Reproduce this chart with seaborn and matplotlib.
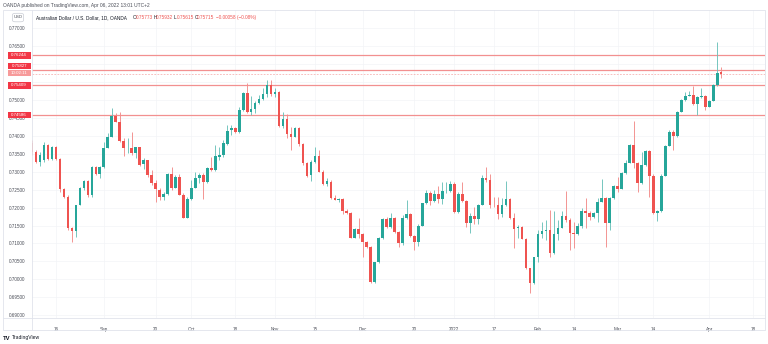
import numpy as np
import pandas as pd
import matplotlib
matplotlib.use("Agg")
import matplotlib.pyplot as plt
from matplotlib.patches import Rectangle, FancyBboxPatch
from matplotlib.lines import Line2D
from matplotlib.transforms import blended_transform_factory
import seaborn as sns

sns.set_theme(style="white")
plt.rcParams['font.family'] = ['Liberation Sans', 'DejaVu Sans']

# ---------------- data (AUD/USD daily, OANDA) ----------------
start_date = "2021-08-06"

opens = [
    0.7380, 0.7354, 0.7328, 0.7333, 0.7374, 0.7335, 0.7370, 0.7335, 0.7252, 0.7230,
    0.7142, 0.7135, 0.7207, 0.7255, 0.7274, 0.7235, 0.7313, 0.7294, 0.7314, 0.7365,
    0.7398, 0.7456, 0.7439, 0.7386, 0.7365, 0.7366, 0.7351, 0.7368, 0.7321, 0.7332,
    0.7291, 0.7268, 0.7249, 0.7230, 0.7238, 0.7293, 0.7254, 0.7286, 0.7235, 0.7172,
    0.7224, 0.7255, 0.7282, 0.7291, 0.7270, 0.7310, 0.7305, 0.7341, 0.7347, 0.7376,
    0.7416, 0.7421, 0.7410, 0.7472, 0.7519, 0.7467, 0.7475, 0.7491, 0.7503, 0.7516,
    0.7542, 0.7516, 0.7522, 0.7428, 0.7446, 0.7405, 0.7398, 0.7421, 0.7376, 0.7323,
    0.7291, 0.7326, 0.7344, 0.7300, 0.7265, 0.7272, 0.7226, 0.7221, 0.7224, 0.7190,
    0.7186, 0.7116, 0.7140, 0.7126, 0.7105, 0.7089, 0.6993, 0.7047, 0.7114, 0.7167,
    0.7147, 0.7170, 0.7133, 0.7102, 0.7170, 0.7181, 0.7121, 0.7105, 0.7149, 0.7212,
    0.7241, 0.7219, 0.7237, 0.7224, 0.7245, 0.7247, 0.7266, 0.7187, 0.7237, 0.7219,
    0.7158, 0.7177, 0.7168, 0.7207, 0.7282, 0.7277, 0.7207, 0.7206, 0.7181, 0.7207,
    0.7224, 0.7170, 0.7142, 0.7147, 0.7112, 0.7031, 0.6990, 0.7061, 0.7126, 0.7135,
    0.7137, 0.7072, 0.7126, 0.7142, 0.7177, 0.7165, 0.7128, 0.7125, 0.7149, 0.7191,
    0.7186, 0.7175, 0.7186, 0.7216, 0.7228, 0.7158, 0.7228, 0.7260, 0.7253, 0.7296,
    0.7325, 0.7374, 0.7325, 0.7268, 0.7319, 0.7358, 0.7289, 0.7184, 0.7190, 0.7289,
    0.7372, 0.7412, 0.7400, 0.7467, 0.7500, 0.7512, 0.7513, 0.7489, 0.7508, 0.7510,
    0.7481, 0.7498, 0.7542, 0.75773,
]
highs = [
    0.7388, 0.7361, 0.7354, 0.7384, 0.7376, 0.7372, 0.7371, 0.7337, 0.7254, 0.7235,
    0.7147, 0.7207, 0.7258, 0.7277, 0.7277, 0.7317, 0.7316, 0.7317, 0.7384, 0.7407,
    0.7477, 0.7463, 0.7467, 0.7393, 0.7393, 0.7410, 0.7370, 0.7370, 0.7337, 0.7333,
    0.7305, 0.7277, 0.7254, 0.7244, 0.7296, 0.7314, 0.7291, 0.7293, 0.7240, 0.7230,
    0.7277, 0.7300, 0.7296, 0.7296, 0.7314, 0.7342, 0.7374, 0.7369, 0.7388, 0.7430,
    0.7430, 0.7425, 0.7480, 0.7522, 0.7547, 0.7511, 0.7497, 0.7514, 0.7533, 0.7555,
    0.7556, 0.7533, 0.7525, 0.7467, 0.7461, 0.7426, 0.7425, 0.7425, 0.7380, 0.7327,
    0.7333, 0.7370, 0.7361, 0.7305, 0.7282, 0.7277, 0.7235, 0.7228, 0.7226, 0.7196,
    0.7188, 0.7143, 0.7170, 0.7129, 0.7107, 0.7093, 0.7048, 0.7118, 0.7171, 0.7173,
    0.7184, 0.7173, 0.7135, 0.7179, 0.7221, 0.7185, 0.7124, 0.7154, 0.7213, 0.7249,
    0.7246, 0.7249, 0.7260, 0.7272, 0.7272, 0.7275, 0.7272, 0.7244, 0.7270, 0.7221,
    0.7186, 0.7201, 0.7210, 0.7291, 0.7312, 0.7294, 0.7230, 0.7230, 0.7227, 0.7274,
    0.7226, 0.7184, 0.7151, 0.7149, 0.7115, 0.7032, 0.7061, 0.7137, 0.7161, 0.7165,
    0.7193, 0.7191, 0.7165, 0.7190, 0.7246, 0.7170, 0.7161, 0.7156, 0.7198, 0.7226,
    0.7191, 0.7188, 0.7226, 0.7280, 0.7230, 0.7230, 0.7263, 0.7286, 0.7299, 0.7333,
    0.7377, 0.7441, 0.7327, 0.7356, 0.7361, 0.7361, 0.7294, 0.7193, 0.7294, 0.7374,
    0.7416, 0.7416, 0.7469, 0.7503, 0.7522, 0.7526, 0.7539, 0.7511, 0.7533, 0.7514,
    0.7500, 0.7545, 0.7663, 0.75932,
]
lows = [
    0.7347, 0.7323, 0.7316, 0.7328, 0.7332, 0.7332, 0.7333, 0.7244, 0.7228, 0.7137,
    0.7105, 0.7119, 0.7207, 0.7249, 0.7230, 0.7230, 0.7291, 0.7283, 0.7310, 0.7365,
    0.7398, 0.7438, 0.7384, 0.7345, 0.7351, 0.7348, 0.7337, 0.7317, 0.7307, 0.7286,
    0.7263, 0.7216, 0.7221, 0.7221, 0.7235, 0.7249, 0.7254, 0.7235, 0.7170, 0.7170,
    0.7221, 0.7254, 0.7268, 0.7224, 0.7268, 0.7302, 0.7302, 0.7333, 0.7341, 0.7374,
    0.7402, 0.7408, 0.7408, 0.7469, 0.7464, 0.7458, 0.7464, 0.7489, 0.7500, 0.7508,
    0.7511, 0.7508, 0.7425, 0.7422, 0.7394, 0.7361, 0.7397, 0.7372, 0.7319, 0.7285,
    0.7274, 0.7324, 0.7299, 0.7263, 0.7260, 0.7224, 0.7220, 0.7216, 0.7181, 0.7182,
    0.7115, 0.7114, 0.7115, 0.7062, 0.7087, 0.6990, 0.6991, 0.7045, 0.7112, 0.7143,
    0.7143, 0.7130, 0.7090, 0.7096, 0.7168, 0.7118, 0.7082, 0.7093, 0.7148, 0.7210,
    0.7207, 0.7216, 0.7212, 0.7210, 0.7241, 0.7243, 0.7184, 0.7185, 0.7216, 0.7145,
    0.7129, 0.7153, 0.7154, 0.7206, 0.7272, 0.7198, 0.7201, 0.7167, 0.7175, 0.7205,
    0.7168, 0.7088, 0.7114, 0.7111, 0.7030, 0.6963, 0.6988, 0.7049, 0.7114, 0.7110,
    0.7063, 0.7070, 0.7110, 0.7142, 0.7161, 0.7083, 0.7086, 0.7123, 0.7144, 0.7144,
    0.7165, 0.7170, 0.7161, 0.7215, 0.7091, 0.7137, 0.7224, 0.7243, 0.7252, 0.7294,
    0.7324, 0.7310, 0.7244, 0.7266, 0.7316, 0.7230, 0.7182, 0.7163, 0.7188, 0.7288,
    0.7372, 0.7361, 0.7397, 0.7467, 0.7497, 0.7510, 0.7487, 0.7458, 0.7506, 0.7472,
    0.7480, 0.7497, 0.7540, 0.75615,
]
closes = [
    0.7355, 0.7328, 0.7347, 0.7374, 0.7335, 0.7370, 0.7335, 0.7252, 0.7230, 0.7142,
    0.7135, 0.7207, 0.7255, 0.7274, 0.7235, 0.7313, 0.7294, 0.7314, 0.7365, 0.7398,
    0.7456, 0.7439, 0.7386, 0.7365, 0.7366, 0.7351, 0.7368, 0.7319, 0.7332, 0.7291,
    0.7268, 0.7251, 0.7230, 0.7238, 0.7293, 0.7254, 0.7286, 0.7235, 0.7172, 0.7224,
    0.7255, 0.7282, 0.7291, 0.7270, 0.7310, 0.7305, 0.7345, 0.7348, 0.7379, 0.7414,
    0.7421, 0.7410, 0.7472, 0.7519, 0.7466, 0.7475, 0.7491, 0.7503, 0.7516, 0.7542,
    0.7516, 0.7522, 0.7428, 0.7446, 0.7405, 0.7398, 0.7421, 0.7376, 0.7323, 0.7289,
    0.7326, 0.7344, 0.7300, 0.7265, 0.7274, 0.7226, 0.7221, 0.7224, 0.7190, 0.7186,
    0.7116, 0.7140, 0.7126, 0.7105, 0.7089, 0.6993, 0.7047, 0.7114, 0.7167, 0.7147,
    0.7170, 0.7133, 0.7102, 0.7170, 0.7181, 0.7121, 0.7105, 0.7149, 0.7212, 0.7241,
    0.7219, 0.7237, 0.7224, 0.7246, 0.7247, 0.7266, 0.7187, 0.7237, 0.7219, 0.7158,
    0.7177, 0.7168, 0.7207, 0.7282, 0.7277, 0.7207, 0.7206, 0.7181, 0.7207, 0.7224,
    0.7170, 0.7140, 0.7147, 0.7112, 0.7031, 0.6990, 0.7061, 0.7126, 0.7135, 0.7137,
    0.7072, 0.7126, 0.7142, 0.7177, 0.7165, 0.7128, 0.7125, 0.7149, 0.7191, 0.7186,
    0.7175, 0.7186, 0.7216, 0.7228, 0.7158, 0.7228, 0.7260, 0.7253, 0.7296, 0.7325,
    0.7374, 0.7325, 0.7268, 0.7319, 0.7358, 0.7289, 0.7184, 0.7190, 0.7289, 0.7372,
    0.7412, 0.7400, 0.7467, 0.7500, 0.7512, 0.7513, 0.7489, 0.7508, 0.7510, 0.7481,
    0.7498, 0.7542, 0.7576, 0.75715,
]

tick_dates = ["2021-08-16", "2021-09-01", "2021-09-20", "2021-10-01", "2021-10-18",
              "2021-11-01", "2021-11-15", "2021-12-01", "2021-12-20", "2022-01-03",
              "2022-01-17", "2022-02-01", "2022-02-14", "2022-03-01", "2022-03-14",
              "2022-04-01", "2022-04-18"]
tick_labels = ["16", "Sep", "20", "Oct", "18", "Nov", "15", "Dec", "20", "2022",
               "17", "Feb", "14", "Mar", "14", "Apr", "18"]

price_ticks = [0.690, 0.695, 0.700, 0.705, 0.710, 0.715, 0.720, 0.725, 0.730,
               0.735, 0.740, 0.745, 0.750, 0.755, 0.760, 0.765, 0.770]
hidden_ticks = [0.760, 0.755]   # covered by the level labels in the original

levels = [0.76244, 0.75827, 0.75409, 0.74586]
level_label_pos = [0.76244, 0.75948, 0.75409, 0.74586]
last_price = 0.75715
countdown = "10:02:11"
countdown_pos = 0.75753

header = "OANDA published on TradingView.com, Apr 06, 2022 13:01 UTC+2"
title = "Australian Dollar / U.S. Dollar, 1D, OANDA"
ohlc_text = [("O", "0.75773"), ("H", "0.75932"), ("L", "0.75615"), ("C", "0.75715")]
change_text = "\u22120.00058 (\u22120.08%)"

# ---------------- style ----------------
UP, DOWN = "#26a69a", "#ef5350"
UP_W, DOWN_W = "#6cc2ba", "#f28d8b"
LEVEL_C = "#f29090"
GRID_C = "#f3f4f7"
FRAME_C = "#e0e3eb"
TXT_C = "#4a4d57"

W, H = 768, 344
fig = plt.figure(figsize=(W / 100, H / 100), dpi=100, facecolor="white")


def fx(px):
    return px / W


def fy(py):
    return 1 - py / H


ax = fig.add_axes([fx(31.7), fy(318), fx(765) - fx(31.7), fy(10) - fy(318)])
ax.set_facecolor("white")

df = pd.DataFrame({
    "date": pd.bdate_range(start_date, periods=len(opens)),
    "open": opens, "high": highs, "low": lows, "close": closes,
})
df["idx"] = np.arange(len(df))
df["up"] = df["close"] >= df["open"]

body_col = np.where(df["up"], UP, DOWN)
wick_col = np.where(df["up"], UP_W, DOWN_W)

ax.vlines(df["idx"], df["low"], df["high"], colors=wick_col, lw=0.65, zorder=2)
body_h = (df["close"] - df["open"]).abs().clip(lower=0.00016)
ax.bar(df["idx"], body_h, bottom=np.minimum(df["open"], df["close"]),
       width=0.66, color=body_col, linewidth=0, zorder=3)

for lv in levels:
    ax.axhline(lv, color=LEVEL_C, lw=0.9, zorder=1.5)
ax.axhline(last_price, color=LEVEL_C, lw=0.5, ls=(0, (2.5, 2)), alpha=0.8, zorder=1.5)

ax.set_ylim(0.689209, 0.775097)
ax.set_xlim(-0.1, 184.0)

tick_idx = [int(np.busday_count(start_date, d)) for d in tick_dates]
ax.set_xticks(tick_idx)
ax.set_xticklabels(tick_labels)
ax.set_yticks(price_ticks)
ax.set_yticklabels(["" if p in hidden_ticks else f"{p:.5f}" for p in price_ticks])
ax.tick_params(axis="x", length=0, pad=6.5, labelsize=3.3, labelcolor=TXT_C)
ax.tick_params(axis="y", length=0, pad=10.2, labelsize=3.3, labelcolor=TXT_C)
for lbl in ax.get_yticklabels():
    lbl.set_horizontalalignment("center")
ax.grid(True, color=GRID_C, lw=0.5, zorder=0)
sns.despine(ax=ax, left=True, bottom=True, top=True, right=True)

# level labels on the price scale
bt = blended_transform_factory(fig.transFigure, ax.transData)
px_price = (0.775097 - 0.689209) / 308.0
for pos, lv in zip(level_label_pos, levels):
    ax.add_patch(Rectangle((fx(7.5), pos - 3.3 * px_price), fx(23.5), 6.6 * px_price,
                           transform=bt, facecolor="#f23645", edgecolor="none",
                           clip_on=False, zorder=10))
    ax.text(fx(19.2), pos, f"{lv:.5f}", transform=bt, ha="center", va="center",
            color="white", fontsize=3.2, zorder=11, clip_on=False)
ax.add_patch(Rectangle((fx(7.5), countdown_pos - 3.3 * px_price), fx(23.5), 6.6 * px_price,
                       transform=bt, facecolor="#f79a9a", edgecolor="none",
                       clip_on=False, zorder=10))
ax.text(fx(19.2), countdown_pos, countdown, transform=bt, ha="center", va="center",
        color="white", fontsize=3.2, zorder=11, clip_on=False)

# outer frame and separators
fig.patches.append(Rectangle((fx(3), fy(330)), fx(765) - fx(3), fy(10) - fy(330),
                             transform=fig.transFigure, fill=False,
                             edgecolor=FRAME_C, lw=0.6))
fig.lines.append(Line2D([fx(31.7), fx(31.7)], [fy(10), fy(330)],
                        transform=fig.transFigure, color=FRAME_C, lw=0.6))
fig.lines.append(Line2D([fx(3), fx(765)], [fy(318), fy(318)],
                        transform=fig.transFigure, color=FRAME_C, lw=0.6))

# header texts
fig.text(fx(3), fy(5), header, fontsize=3.5, color=TXT_C, va="center", ha="left")
fig.patches.append(FancyBboxPatch((fx(12.5), fy(21.8)), fx(11), fy(13.3) - fy(21.8),
                                  boxstyle="round,pad=0,rounding_size=0.004",
                                  transform=fig.transFigure, facecolor="white",
                                  edgecolor="#c9ccd4", lw=0.5))
fig.text(fx(18), fy(17.5), "USD", fontsize=3.0, color=TXT_C, va="center", ha="center")
fig.text(fx(36), fy(17.5), title, fontsize=3.4, color="#131722", va="center", ha="left")
xpos = [133.0, 153.5, 174.0, 194.5]
for (k, v), xp in zip(ohlc_text, xpos):
    fig.text(fx(xp), fy(17.5), k, fontsize=3.4, color="#131722", va="center", ha="left")
    fig.text(fx(xp + 2.7), fy(17.5), v, fontsize=3.4, color=DOWN, va="center", ha="left")
fig.text(fx(215.5), fy(17.5), change_text, fontsize=3.4, color=DOWN, va="center", ha="left")

# footer logo
fig.text(fx(3), fy(338), "TV", fontsize=4.2, color="#131722", fontweight="bold",
         va="center", ha="left")
fig.text(fx(12), fy(338), "TradingView", fontsize=3.6, color="#131722",
         va="center", ha="left")

fig.savefig("out.png", dpi=100, facecolor="white")
